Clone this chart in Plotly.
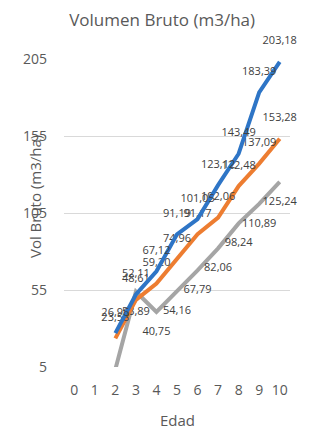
import plotly.graph_objects as go

edad = [2, 3, 4, 5, 6, 7, 8, 9, 10]
serie_azul = [26.96, 52.11, 67.12, 91.19, 101.05, 123.12, 143.49, 183.39, 203.18]
serie_naranja = [23.58, 48.61, 59.20, 74.96, 91.17, 102.06, 122.48, 137.09, 153.28]
serie_gris = [3.5, 53.89, 40.75, 54.16, 67.79, 82.06, 98.24, 110.89, 125.24]
x_ticks = list(range(0, 11))
y_ticks = [5, 55, 105, 155, 205]

FONT = "Open Sans"
TXT = "#595959"
LBL = "#404040"
Y_MIN, Y_MAX = 5, 205


def fmt(v):
    # points below the axis minimum are hidden by the chart, so are their labels
    return f"{v:.2f}".replace(".", ",") if v >= Y_MIN else ""


fig = go.Figure()
series = [
    (serie_gris, "#A5A5A5", "bottom center"),
    (serie_naranja, "#ED7D31", "top center"),
    (serie_azul, "#2E75C6", "top center"),
]
for vals, col, pos in series:
    fig.add_trace(go.Scatter(
        x=edad, y=vals, mode="lines+markers+text",
        line=dict(color=col, width=4),
        marker=dict(size=22, color="rgba(0,0,0,0)"),
        text=[fmt(v) for v in vals], textposition=pos,
        textfont=dict(family=FONT, size=11, color=LBL),
        cliponaxis=False, showlegend=False, hoverinfo="skip",
    ))

fig.update_layout(
    width=335, height=444,
    margin=dict(l=64, r=45, t=59, b=77),
    paper_bgcolor="white", plot_bgcolor="white",
    title=dict(text="Volumen Bruto (m3/ha)", x=0.484, xanchor="center",
               y=0.955, yanchor="middle",
               font=dict(family=FONT, size=17, color=TXT)),
    xaxis=dict(range=[-0.5, 10.5], tickmode="array", tickvals=x_ticks,
               ticktext=[str(t) for t in x_ticks], showgrid=False,
               zeroline=False, showline=False, ticks="",
               ticklabelstandoff=13,
               tickfont=dict(family=FONT, size=14, color=TXT)),
    yaxis=dict(range=[Y_MIN, Y_MAX], tickmode="array", tickvals=y_ticks,
               showgrid=True, gridcolor="#D9D9D9", gridwidth=1,
               zeroline=False, showline=False, ticks="",
               ticklabelstandoff=16,
               tickfont=dict(family=FONT, size=14, color=TXT)),
    annotations=[
        dict(text="Vol Bruto (m3/ha)", xref="paper", yref="paper",
             x=-0.128, y=0.552, textangle=-90, showarrow=False,
             xanchor="center", yanchor="middle",
             font=dict(family=FONT, size=15, color=TXT)),
        dict(text="Edad", xref="paper", yref="paper", x=0.5, y=-0.172,
             showarrow=False, xanchor="center", yanchor="middle",
             font=dict(family=FONT, size=15, color=TXT)),
    ],
)

fig.write_html("out.html")
